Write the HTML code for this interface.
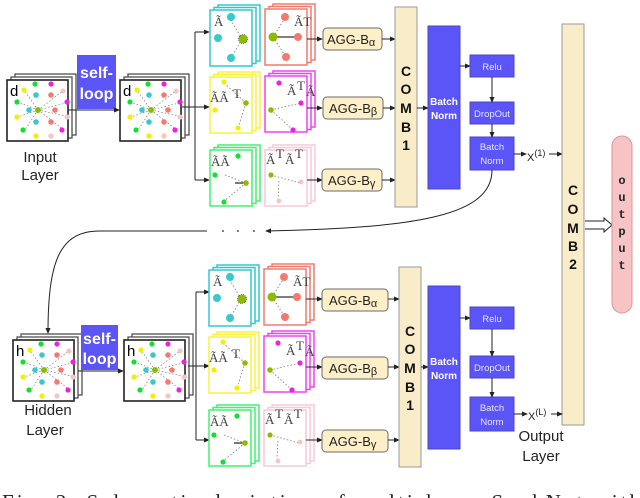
<!DOCTYPE html>
<html><head><meta charset="utf-8"><style>
html,body{margin:0;padding:0;background:#fff;}
svg{display:block;font-family:"Liberation Sans",sans-serif;}
</style></head><body>
<svg width="640" height="498" viewBox="0 0 640 498" xmlns="http://www.w3.org/2000/svg">
<defs>
<marker id="ah" markerWidth="6" markerHeight="6" refX="5" refY="3" orient="auto" markerUnits="userSpaceOnUse"><path d="M0,0.5 L6,3 L0,5.5z" fill="#222"/></marker>
<g id="bigstack">
  <rect x="8" y="-6" width="61" height="61" fill="#fff" stroke="#444" stroke-width="1.2"/>
  <rect x="4" y="-3" width="61" height="61" fill="#fff" stroke="#444" stroke-width="1.2"/>
  <rect x="0" y="0" width="61" height="61" fill="#fff" stroke="#222" stroke-width="1.6"/>
  <g stroke="#777" stroke-width="0.7" stroke-dasharray="1.5,2">
    <line x1="31" y1="30" x2="17" y2="10"/><line x1="31" y1="30" x2="56" y2="11"/>
    <line x1="31" y1="30" x2="11" y2="22"/><line x1="31" y1="30" x2="63" y2="22"/>
    <line x1="31" y1="30" x2="11" y2="37"/><line x1="31" y1="30" x2="57" y2="50"/>
    <line x1="31" y1="30" x2="18" y2="50"/><line x1="31" y1="30" x2="63" y2="37"/>
  </g>
  <circle cx="17" cy="10" r="2.6" fill="#f0f000"/><circle cx="28" cy="4" r="2.6" fill="#10e030"/>
  <circle cx="44" cy="4" r="2.6" fill="#f020e0"/><circle cx="56" cy="11" r="2.6" fill="#f8c4c0"/>
  <circle cx="29" cy="15" r="2.8" fill="#38c8d0"/><circle cx="44" cy="15" r="2.8" fill="#f47a70"/>
  <circle cx="10" cy="22" r="2.6" fill="#10e030"/><circle cx="60" cy="22" r="2.6" fill="#f020e0"/>
  <circle cx="22" cy="30" r="2.8" fill="#38c8d0"/><circle cx="31" cy="30" r="3" fill="#8cbc00"/>
  <circle cx="48" cy="30" r="2.8" fill="#f47a70"/><circle cx="10" cy="37" r="2.6" fill="#f0f000"/>
  <circle cx="60" cy="37" r="2.6" fill="#f8c4c0"/><circle cx="29" cy="42" r="2.8" fill="#38c8d0"/>
  <circle cx="44" cy="42" r="2.8" fill="#f47a70"/><circle cx="16" cy="50" r="2.6" fill="#10e030"/>
  <circle cx="55" cy="50" r="2.6" fill="#f020e0"/><circle cx="29" cy="56" r="2.6" fill="#f0f000"/>
  <circle cx="44" cy="56" r="2.6" fill="#f8c4c0"/>
</g>
</defs>

<use href="#bigstack" x="7" y="80"/>
<text x="10" y="96" font-size="15">d</text>
<text x="40" y="162" font-size="15" text-anchor="middle" fill="#222">Input</text>
<text x="40" y="180" font-size="15" text-anchor="middle" fill="#222">Layer</text>
<rect x="77" y="55" width="39" height="54" fill="#5b55f6"/>
<text x="96.5" y="78" font-size="16" font-weight="bold" fill="#fff" text-anchor="middle">self-</text>
<text x="96.5" y="99" font-size="16" font-weight="bold" fill="#fff" text-anchor="middle">loop</text>
<line x1="68" y1="110" x2="119" y2="110" stroke="#222" marker-end="url(#ah)"/>
<use href="#bigstack" x="120" y="80"/>
<text x="123" y="96" font-size="15">d</text>
<polyline points="182,107 195,107" fill="none" stroke="#222"/>
<line x1="195" y1="32" x2="195" y2="180" stroke="#222"/>
<line x1="195" y1="32" x2="209" y2="32" stroke="#222" marker-end="url(#ah)"/>
<line x1="195" y1="107" x2="209" y2="107" stroke="#222" marker-end="url(#ah)"/>
<line x1="195" y1="180" x2="209" y2="180" stroke="#222" marker-end="url(#ah)"/>

<g id="panels-top">
 <g stroke="#30c8d0" stroke-width="1.5" fill="#fff"><rect x="218" y="5" width="42" height="56"/><rect x="214" y="7.5" width="42" height="56"/><rect x="210" y="10" width="42" height="56"/></g>
 <g stroke="#f07a70" stroke-width="1.5" fill="#fff"><rect x="273" y="4" width="42" height="56"/><rect x="269" y="6.5" width="42" height="56"/><rect x="265" y="9" width="42" height="56"/></g>
 <g stroke="#f8f040" stroke-width="1.5" fill="#fff"><rect x="218" y="72" width="42" height="56"/><rect x="214" y="74.5" width="42" height="56"/><rect x="210" y="77" width="42" height="56"/></g>
 <g stroke="#f040f0" stroke-width="1.5" fill="#fff"><rect x="273" y="71" width="42" height="56"/><rect x="269" y="73.5" width="42" height="56"/><rect x="265" y="76" width="42" height="56"/></g>
 <g stroke="#40f070" stroke-width="1.5" fill="#fff"><rect x="218" y="145" width="42" height="56"/><rect x="214" y="147.5" width="42" height="56"/><rect x="210" y="150" width="42" height="56"/></g>
 <g stroke="#f8c8dc" stroke-width="1.5" fill="#fff"><rect x="273" y="145" width="42" height="56"/><rect x="269" y="147.5" width="42" height="56"/><rect x="265" y="150" width="42" height="56"/></g>
 <g stroke="#777" stroke-width="0.8" stroke-dasharray="1.5,2">
  <line x1="242" y1="39" x2="229" y2="17"/><line x1="242" y1="39" x2="231" y2="58"/>
  <line x1="273" y1="37" x2="285" y2="18"/><line x1="273" y1="37" x2="286" y2="57"/>
  <line x1="246" y1="103" x2="224" y2="83"/><line x1="246" y1="103" x2="238" y2="128"/>
  <line x1="271" y1="110" x2="293" y2="130"/><line x1="271" y1="110" x2="301" y2="103"/>
  <line x1="246" y1="183" x2="225" y2="175"/><line x1="246" y1="183" x2="223" y2="202"/>
  <line x1="271" y1="175" x2="300" y2="183"/><line x1="278" y1="200" x2="279" y2="180"/>
 </g>
 <line x1="273" y1="37" x2="298" y2="37" stroke="#555" stroke-width="1.5"/>
 <line x1="235" y1="183" x2="246" y2="183" stroke="#222" stroke-width="1.2"/>
 <circle cx="231" cy="17" r="4" fill="#38c8d0"/><circle cx="218" cy="38" r="4" fill="#38c8d0"/><circle cx="231" cy="58" r="4" fill="#38c8d0"/><circle cx="243" cy="39" r="4.5" fill="#8cbc00" stroke="#333" stroke-width="0.6" stroke-dasharray="1,1"/>
 <circle cx="285" cy="17" r="4" fill="#f47a70"/><circle cx="298" cy="37" r="4" fill="#f47a70"/><circle cx="286" cy="57" r="4" fill="#f47a70"/><circle cx="273" cy="37" r="4.5" fill="#8cbc00"/>
 <circle cx="224" cy="82" r="2.6" fill="#f0f000"/><circle cx="215" cy="110" r="2.6" fill="#f0f000"/><circle cx="238" cy="128" r="2.6" fill="#f0f000"/><circle cx="246" cy="103" r="2.8" fill="#8cbc00"/>
 <circle cx="279" cy="83" r="2.6" fill="#f020e0"/><circle cx="301" cy="103" r="2.6" fill="#f020e0"/><circle cx="293" cy="130" r="2.6" fill="#f020e0"/><circle cx="271" cy="110" r="2.8" fill="#8cbc00"/>
 <circle cx="238" cy="156" r="2.6" fill="#10e030"/><circle cx="215" cy="175" r="2.6" fill="#10e030"/><circle cx="224" cy="202" r="2.6" fill="#10e030"/><circle cx="246" cy="183" r="2.8" fill="#8cbc00"/>
 <circle cx="271" cy="175" r="2.6" fill="#8cbc00"/><circle cx="301" cy="182" r="2.4" fill="#f8c4c0"/><circle cx="279" cy="201" r="2.4" fill="#f8c4c0"/>
 <g style="font-family:'Liberation Serif',serif" font-size="13" fill="#444">
  <text x="214" y="26">Ã</text><text x="294" y="26">ÃT</text>
  <text x="210" y="102">ÃÃ</text><text x="233" y="98">T</text>
  <text x="287" y="95">Ã</text><text x="297" y="90">T</text><text x="306" y="96">Ã</text>
  <text x="211" y="166">ÃÃ</text>
  <text x="266" y="164">Ã</text><text x="276" y="158">T</text><text x="285" y="164">Ã</text><text x="295" y="158">T</text>
 </g>
</g>
<line x1="307" y1="39" x2="322" y2="39" stroke="#222" marker-end="url(#ah)"/>
<line x1="307" y1="108" x2="322" y2="108" stroke="#222" marker-end="url(#ah)"/>
<line x1="307" y1="180" x2="322" y2="180" stroke="#222" marker-end="url(#ah)"/>

<g fill="#fdf0c8" stroke="#6a6a6a" stroke-width="1">
 <rect x="323" y="28" width="59" height="22" rx="4"/><rect x="323" y="97" width="60" height="22" rx="4"/><rect x="322" y="169" width="60" height="22" rx="4"/>
</g>
<g font-size="13" fill="#222">
 <text x="327" y="44">AGG-B<tspan font-size="11" dy="2">α</tspan></text>
 <text x="329" y="113">AGG-B<tspan font-size="11" dy="2">β</tspan></text>
 <text x="328" y="185">AGG-B<tspan font-size="11" dy="2">γ</tspan></text>
</g>
<line x1="382" y1="39" x2="395" y2="39" stroke="#222" marker-end="url(#ah)"/>
<line x1="383" y1="108" x2="395" y2="108" stroke="#222" marker-end="url(#ah)"/>
<line x1="382" y1="180" x2="395" y2="180" stroke="#222" marker-end="url(#ah)"/>
<rect x="395" y="7" width="22" height="200" fill="#f9ecc8" stroke="#9a9a9a"/>
<g font-size="14" font-weight="bold" text-anchor="middle" fill="#111">
 <text x="406" y="76">C</text><text x="406" y="94">O</text><text x="406" y="113">M</text><text x="406" y="132">B</text><text x="406" y="150">1</text>
</g>
<line x1="417" y1="108" x2="428" y2="108" stroke="#222" marker-end="url(#ah)"/>
<rect x="428" y="26" width="32" height="163" fill="#5b55f8" stroke="#4a46c8"/>
<text x="444" y="105" font-size="10" font-weight="bold" fill="#fff" text-anchor="middle">Batch</text>
<text x="444" y="119" font-size="10" font-weight="bold" fill="#fff" text-anchor="middle">Norm</text>
<line x1="460" y1="66" x2="470" y2="66" stroke="#222" marker-end="url(#ah)"/>
<g fill="#5b55f8" stroke="#4a46c8"><rect x="470" y="55" width="44" height="22"/><rect x="470" y="102" width="44" height="22"/><rect x="470" y="137" width="44" height="33"/></g>
<g font-size="9.5" fill="#e8e8ff" text-anchor="middle">
 <text x="492" y="70">Relu</text><text x="492" y="117">DropOut</text><text x="492" y="150">Batch</text><text x="492" y="164">Norm</text>
</g>
<line x1="492" y1="77" x2="492" y2="102" stroke="#222" marker-end="url(#ah)"/>
<line x1="492" y1="124" x2="492" y2="137" stroke="#222" marker-end="url(#ah)"/>
<line x1="514" y1="154" x2="526" y2="154" stroke="#222" marker-end="url(#ah)"/>
<text x="527" y="161" font-size="11" fill="#222">X<tspan font-size="9" dy="-5">(1)</tspan></text>
<line x1="549" y1="154" x2="562" y2="154" stroke="#222" marker-end="url(#ah)"/>
<path d="M492,170 C492,215 420,228 266,231" fill="none" stroke="#222" marker-end="url(#ah)"/>
<g fill="#222"><circle cx="223" cy="231" r="0.9"/><circle cx="238" cy="231" r="0.9"/><circle cx="254" cy="231" r="0.9"/></g>
<path d="M207,231 L100,231 C60,231 48,260 48,333" fill="none" stroke="#222" marker-end="url(#ah)"/>

<rect x="562" y="24" width="22" height="401" fill="#f9ecc8" stroke="#9a9a9a"/>
<g font-size="14" font-weight="bold" text-anchor="middle" fill="#111">
 <text x="573" y="195">C</text><text x="573" y="214">O</text><text x="573" y="233">M</text><text x="573" y="251">B</text><text x="573" y="269">2</text>
</g>
<path d="M585,221 H604 V218 L612,225 L604,232 V229 H585" fill="#fff" stroke="#222"/>
<rect x="612" y="136" width="20" height="177" rx="10" fill="#f6c4c4" stroke="#e09494"/>
<g style="font-family:'Liberation Mono',monospace" font-weight="bold" font-size="12" text-anchor="middle" fill="#222">
 <text x="622" y="184">o</text><text x="622" y="201">u</text><text x="622" y="218">t</text><text x="622" y="235">p</text><text x="622" y="252">u</text><text x="622" y="269">t</text>
</g>

<use href="#bigstack" x="13" y="340"/>
<text x="16" y="356" font-size="15">h</text>
<text x="48" y="415" font-size="15" text-anchor="middle" fill="#222">Hidden</text>
<text x="45" y="435" font-size="15" text-anchor="middle" fill="#222">Layer</text>
<rect x="81" y="325" width="37" height="45" fill="#5b55f6"/>
<text x="99.5" y="344" font-size="16" font-weight="bold" fill="#fff" text-anchor="middle">self-</text>
<text x="99.5" y="364" font-size="16" font-weight="bold" fill="#fff" text-anchor="middle">loop</text>
<line x1="78" y1="371" x2="123" y2="371" stroke="#222" marker-end="url(#ah)"/>
<use href="#bigstack" x="124" y="340"/>
<text x="127" y="356" font-size="15">h</text>
<line x1="188" y1="366" x2="196" y2="366" stroke="#222"/>
<line x1="196" y1="292" x2="196" y2="440" stroke="#222"/>
<line x1="196" y1="292" x2="209" y2="292" stroke="#222" marker-end="url(#ah)"/>
<line x1="196" y1="366" x2="209" y2="366" stroke="#222" marker-end="url(#ah)"/>
<line x1="196" y1="440" x2="209" y2="440" stroke="#222" marker-end="url(#ah)"/>
<use href="#panels-top" x="-1" y="260"/>
<line x1="306" y1="299" x2="322" y2="299" stroke="#222" marker-end="url(#ah)"/>
<line x1="306" y1="367" x2="322" y2="367" stroke="#222" marker-end="url(#ah)"/>
<line x1="306" y1="440" x2="322" y2="440" stroke="#222" marker-end="url(#ah)"/>
<g fill="#fdf0c8" stroke="#6a6a6a" stroke-width="1">
 <rect x="322" y="289" width="66" height="22" rx="4"/><rect x="322" y="357" width="66" height="22" rx="4"/><rect x="322" y="430" width="66" height="22" rx="4"/>
</g>
<g font-size="13" fill="#222">
 <text x="329" y="305">AGG-B<tspan font-size="11" dy="2">α</tspan></text>
 <text x="329" y="373">AGG-B<tspan font-size="11" dy="2">β</tspan></text>
 <text x="329" y="446">AGG-B<tspan font-size="11" dy="2">γ</tspan></text>
</g>
<line x1="388" y1="299" x2="399" y2="299" stroke="#222" marker-end="url(#ah)"/>
<line x1="388" y1="367" x2="399" y2="367" stroke="#222" marker-end="url(#ah)"/>
<line x1="388" y1="440" x2="399" y2="440" stroke="#222" marker-end="url(#ah)"/>
<rect x="399" y="267" width="22" height="200" fill="#f9ecc8" stroke="#9a9a9a"/>
<g font-size="14" font-weight="bold" text-anchor="middle" fill="#111">
 <text x="410" y="336">C</text><text x="410" y="354">O</text><text x="410" y="373">M</text><text x="410" y="392">B</text><text x="410" y="410">1</text>
</g>
<line x1="421" y1="367" x2="428" y2="367" stroke="#222" marker-end="url(#ah)"/>
<rect x="428" y="286" width="32" height="163" fill="#5b55f8" stroke="#4a46c8"/>
<text x="444" y="365" font-size="10" font-weight="bold" fill="#fff" text-anchor="middle">Batch</text>
<text x="444" y="379" font-size="10" font-weight="bold" fill="#fff" text-anchor="middle">Norm</text>
<line x1="460" y1="318" x2="470" y2="318" stroke="#222" marker-end="url(#ah)"/>
<g fill="#5b55f8" stroke="#4a46c8"><rect x="470" y="307" width="44" height="22"/><rect x="470" y="356" width="44" height="22"/><rect x="470" y="397" width="44" height="34"/></g>
<g font-size="9.5" fill="#e8e8ff" text-anchor="middle">
 <text x="492" y="322">Relu</text><text x="492" y="371">DropOut</text><text x="492" y="411">Batch</text><text x="492" y="425">Norm</text>
</g>
<line x1="492" y1="329" x2="492" y2="356" stroke="#222" marker-end="url(#ah)"/>
<line x1="492" y1="378" x2="492" y2="397" stroke="#222" marker-end="url(#ah)"/>
<line x1="514" y1="414" x2="527" y2="414" stroke="#222" marker-end="url(#ah)"/>
<text x="528" y="420" font-size="11" fill="#222">X<tspan font-size="9" dy="-5">(L)</tspan></text>
<line x1="551" y1="414" x2="562" y2="414" stroke="#222" marker-end="url(#ah)"/>
<text x="541" y="441" font-size="15" text-anchor="middle" fill="#222">Output</text>
<text x="541" y="461" font-size="15" text-anchor="middle" fill="#222">Layer</text>

<text x="2" y="509" style="font-family:'Liberation Serif',serif" font-size="21" fill="#222" textLength="660" lengthAdjust="spacing">Fig. 2:  Schematic depiction of multi-layer SpekNet with b</text>
</svg>
</body></html>
